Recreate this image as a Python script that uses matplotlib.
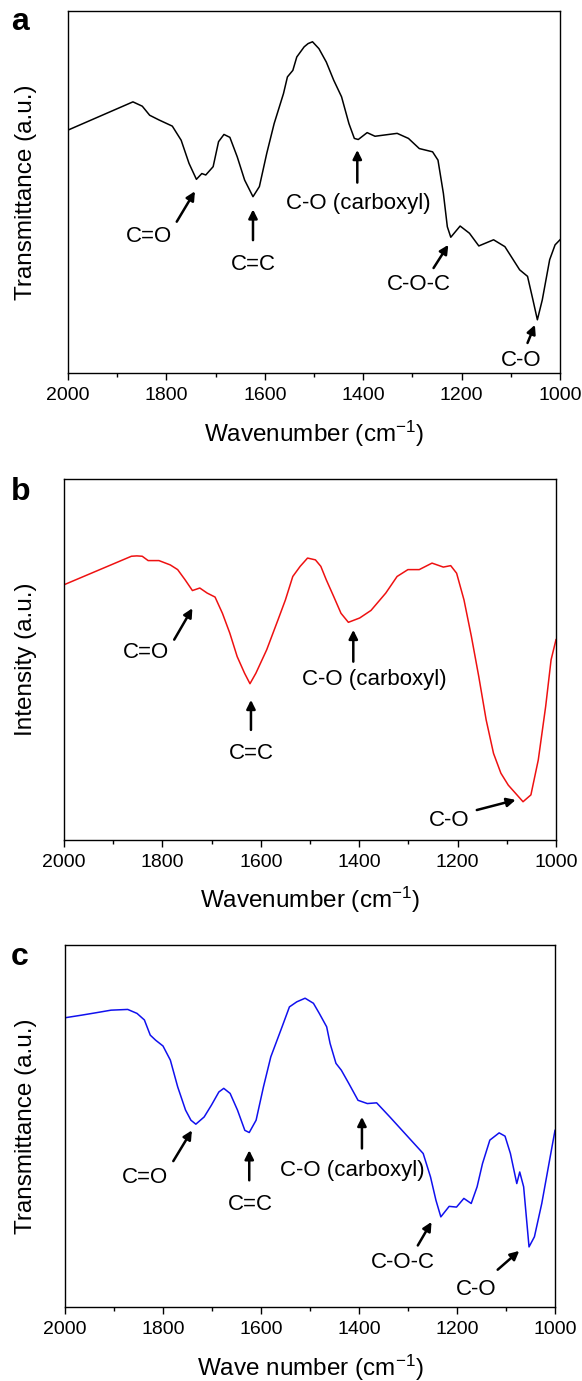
import matplotlib
matplotlib.use("Agg")
import matplotlib.pyplot as plt
from matplotlib.ticker import MultipleLocator

plt.rcParams['font.family'] = ['Liberation Sans', 'DejaVu Sans']
plt.rcParams['mathtext.default'] = 'regular'

# ---------------- data ----------------
wn_a = [2000, 1868, 1849, 1834, 1815, 1788, 1770, 1754, 1739, 1728, 1720, 1705, 1694, 1683, 1671,
        1656, 1641, 1624, 1611, 1596, 1581, 1562, 1554, 1543, 1535, 1520, 1512, 1503, 1490, 1475,
        1460, 1444, 1429, 1418, 1410, 1392, 1376, 1331, 1308, 1286, 1259, 1248, 1237, 1229, 1222,
        1203, 1184, 1165, 1135, 1112, 1082, 1066, 1055, 1046, 1036, 1021, 1010, 1000]
tr_a = [0.671, 0.749, 0.737, 0.712, 0.699, 0.682, 0.643, 0.579, 0.535, 0.551, 0.547, 0.570, 0.639,
        0.659, 0.651, 0.597, 0.533, 0.487, 0.515, 0.607, 0.689, 0.772, 0.818, 0.836, 0.873, 0.901,
        0.910, 0.915, 0.896, 0.859, 0.809, 0.763, 0.689, 0.648, 0.645, 0.664, 0.654, 0.662, 0.648,
        0.620, 0.611, 0.588, 0.496, 0.404, 0.375, 0.406, 0.386, 0.351, 0.368, 0.349, 0.285, 0.267,
        0.202, 0.147, 0.202, 0.313, 0.354, 0.368]

wn_b = [2000, 1863, 1852, 1841, 1829, 1807, 1784, 1769, 1754, 1739, 1724, 1709, 1693, 1678, 1663,
        1648, 1633, 1622, 1610, 1588, 1565, 1550, 1535, 1520, 1505, 1489, 1478, 1467, 1452, 1437,
        1422, 1399, 1376, 1346, 1323, 1301, 1278, 1252, 1229, 1214, 1202, 1187, 1172, 1157, 1142,
        1127, 1112, 1097, 1082, 1067, 1051, 1036, 1021, 1010, 1000]
in_b = [0.707, 0.786, 0.787, 0.786, 0.774, 0.774, 0.762, 0.749, 0.721, 0.691, 0.698, 0.684, 0.673,
        0.628, 0.573, 0.508, 0.462, 0.433, 0.462, 0.527, 0.610, 0.665, 0.730, 0.758, 0.781, 0.776,
        0.758, 0.721, 0.675, 0.628, 0.603, 0.615, 0.636, 0.684, 0.730, 0.749, 0.749, 0.767, 0.756,
        0.760, 0.739, 0.665, 0.564, 0.453, 0.333, 0.240, 0.185, 0.152, 0.129, 0.106, 0.125, 0.222,
        0.370, 0.499, 0.555]

wn_c = [2000, 1967, 1936, 1906, 1872, 1853, 1838, 1826, 1815, 1800, 1785, 1770, 1754, 1743, 1733,
        1716, 1701, 1686, 1676, 1663, 1648, 1633, 1624, 1610, 1595, 1580, 1557, 1542, 1527, 1510,
        1493, 1481, 1466, 1459, 1447, 1436, 1421, 1402, 1383, 1364, 1337, 1300, 1269, 1254, 1243,
        1233, 1216, 1201, 1186, 1171, 1159, 1148, 1133, 1114, 1102, 1091, 1078, 1072, 1064, 1053,
        1042, 1027, 1011, 1000]
tr_c = [0.799, 0.806, 0.813, 0.820, 0.822, 0.811, 0.793, 0.751, 0.737, 0.721, 0.682, 0.608, 0.544,
        0.516, 0.505, 0.525, 0.558, 0.594, 0.604, 0.590, 0.544, 0.488, 0.482, 0.516, 0.608, 0.691,
        0.774, 0.829, 0.843, 0.853, 0.839, 0.811, 0.774, 0.728, 0.673, 0.654, 0.618, 0.571, 0.562,
        0.564, 0.525, 0.470, 0.424, 0.359, 0.295, 0.249, 0.278, 0.276, 0.300, 0.286, 0.332, 0.396,
        0.461, 0.481, 0.472, 0.424, 0.341, 0.373, 0.332, 0.166, 0.194, 0.286, 0.406, 0.488]

# annotations: (label, text x, text y, arrow tail x, tail y, head x, head y)
ann_a = [("C=O", 1836, 0.377, 1779, 0.418, 1742, 0.502),
         ("C=C", 1624, 0.300, 1624, 0.367, 1624, 0.452),
         ("C-O (carboxyl)", 1410, 0.469, 1412, 0.526, 1412, 0.616),
         ("C-O-C", 1286, 0.244, 1257, 0.290, 1227, 0.354),
         ("C-O", 1078, 0.035, 1066, 0.083, 1051, 0.133)]
ann_b = [("C=O", 1833, 0.519, 1776, 0.555, 1739, 0.642),
         ("C=C", 1620, 0.240, 1620, 0.305, 1620, 0.388),
         ("C-O (carboxyl)", 1369, 0.444, 1412, 0.494, 1412, 0.582),
         ("C-O", 1218, 0.055, 1161, 0.083, 1082, 0.111)]
ann_c = [("C=O", 1836, 0.359, 1779, 0.403, 1741, 0.488),
         ("C=C", 1622, 0.284, 1624, 0.350, 1624, 0.433),
         ("C-O (carboxyl)", 1413, 0.376, 1394, 0.438, 1394, 0.525),
         ("C-O-C", 1311, 0.124, 1280, 0.170, 1252, 0.235),
         ("C-O", 1161, 0.048, 1117, 0.103, 1073, 0.155)]

panels = [
    dict(letter="a", x=wn_a, y=tr_a, color="black", ylabel="Transmittance (a.u.)",
         xlabel="Wavenumber (cm$^{-1}$)", ann=ann_a, box=(68, 560, 11, 373), lb=30),
    dict(letter="b", x=wn_b, y=in_b, color="#ee1111", ylabel="Intensity (a.u.)",
         xlabel="Wavenumber (cm$^{-1}$)", ann=ann_b, box=(64, 556, 479, 840), lb=500),
    dict(letter="c", x=wn_c, y=tr_c, color="#1010ee", ylabel="Transmittance (a.u.)",
         xlabel="Wave number (cm$^{-1}$)", ann=ann_c, box=(65, 555, 945, 1307), lb=965),
]

W, H = 582, 1381
fig = plt.figure(figsize=(W / 100, H / 100), dpi=100)

for p in panels:
    l, r, t, b = p["box"]
    ax = fig.add_axes([l / W, 1 - b / H, (r - l) / W, (b - t) / H])
    ax.plot(p["x"], p["y"], color=p["color"], lw=1.1)
    ax.set_xlim(2000, 1000)
    ax.set_ylim(0, 1)
    ax.set_yticks([])
    ax.xaxis.set_major_locator(MultipleLocator(200))
    ax.xaxis.set_minor_locator(MultipleLocator(100))
    ax.tick_params(axis='x', which='major', direction='out', length=5, width=1.0,
                   labelsize=14, pad=5)
    ax.tick_params(axis='x', which='minor', direction='out', length=3, width=1.0)
    for s in ax.spines.values():
        s.set_linewidth(1.0)
    ax.set_xlabel(p["xlabel"], fontsize=17.5)
    ax.xaxis.label.set_va('center')
    ax.xaxis.set_label_coords(0.5, -0.167)
    ax.set_ylabel(p["ylabel"], fontsize=17.5)
    ax.yaxis.label.set_va('center')
    ax.yaxis.set_label_coords((26 - l) / (r - l), 0.5)
    for lab, tx, ty, ax0, ay0, ax1, ay1 in p["ann"]:
        ax.text(tx, ty, lab, fontsize=16, ha='center', va='center')
        ax.annotate('', xy=(ax1, ay1), xytext=(ax0, ay0),
                    arrowprops=dict(arrowstyle='-|>', lw=1.8, color='black',
                                    mutation_scale=13, shrinkA=0, shrinkB=0))
    fig.text(11 / W, 1 - p["lb"] / H, p["letter"], fontsize=23, fontweight='bold',
             ha='left', va='baseline')

fig.savefig("out.png", dpi=100)
